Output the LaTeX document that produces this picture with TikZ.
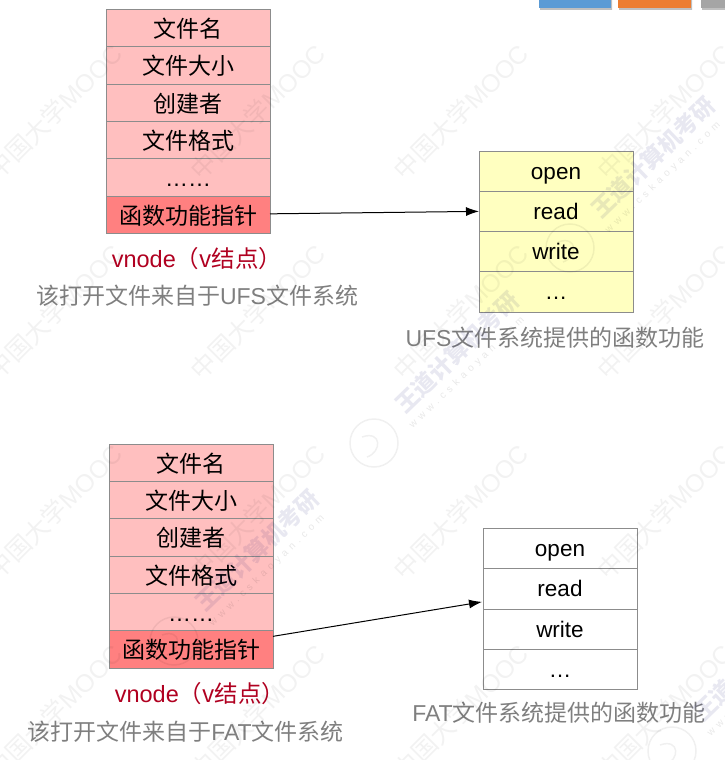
\documentclass[tikz,border=0pt]{standalone}
\usepackage{fontspec}
\setmainfont{Liberation Sans}
\newfontfamily\cjk{Noto Sans CJK SC}
\usetikzlibrary{arrows.meta,calc}
\definecolor{pinkA}{HTML}{FFBFBF}
\definecolor{pinkB}{HTML}{FF8080}
\definecolor{yellowA}{HTML}{FFFFC0}
\definecolor{edgeG}{HTML}{8C8C8C}
\definecolor{capG}{HTML}{7F7F7F}
\definecolor{capR}{HTML}{B00020}
\definecolor{barBlue}{RGB}{91,155,213}
\definecolor{barOrange}{RGB}{237,125,49}
\definecolor{barGray}{RGB}{165,165,165}
\tikzset{
  cell/.style={draw=edgeG,line width=1pt,inner sep=0pt,outer sep=0pt,anchor=north west,font=\fontsize{23}{24}\selectfont\cjk,text height=19pt,text depth=0pt},
  lcell/.style={cell,fill=pinkA,minimum width=164pt,minimum height=37.33pt},
  pcell/.style={lcell,fill=pinkB},
  ycell/.style={cell,fill=yellowA,minimum width=154pt,minimum height=40.25pt,font=\fontsize{22.5}{24}\selectfont,text height=16pt},
  wcell/.style={ycell,fill=white},
  link/.style={draw=black,line width=1pt,-{Latex[length=13pt,width=9pt]}},
  vcap/.style={text=capR,font=\fontsize{23.5}{24}\selectfont,inner sep=0pt},
  gcap/.style={text=capG,font=\fontsize{23}{24}\selectfont,inner sep=0pt},
  wmA/.style={rotate=45,text=black,opacity=0.05,font=\fontsize{25}{27}\selectfont,inner sep=0pt},
  wmB/.style={rotate=44,text=black!60!blue,opacity=0.09,font=\fontsize{23}{25}\selectfont\cjk\bfseries,inner sep=0pt},
  wmC/.style={rotate=44,text=black,opacity=0.09,font=\fontsize{10}{12}\selectfont\addfontfeature{LetterSpace=45},inner sep=0pt},
  wmD/.style={draw=black,opacity=0.06,line width=1.5pt},
  tabbar/.style={draw=none,inner sep=0pt,outer sep=0pt,anchor=north west,minimum height=8pt}
}
\newcommand{\Cj}[1]{{\cjk #1}}
\newcommand{\Dots}[1]{{\fontspec{Liberation Sans}#1}}
\begin{document}
\begin{tikzpicture}[x=1pt,y=-1pt]
\useasboundingbox (0,0) rectangle (725,760);
% top bars
\fill[black!25] (540,0) rectangle (612,10) (619,0) rectangle (692,10) (702,0) rectangle (725,10);
\node[tabbar,fill=barBlue,minimum width=72pt] (barA) at (539,0) {};
\node[tabbar,fill=barOrange,minimum width=73pt] (barB) at (618,0) {};
\node[tabbar,fill=barGray,minimum width=24pt] (barC) at (701,0) {};
% UFS left table
\node[lcell] (a1) at (106,9.5) {文件名};
\node[lcell] (a2) at (106,46.83) {文件大小};
\node[lcell] (a3) at (106,84.17) {创建者};
\node[lcell] (a4) at (106,121.5) {文件格式};
\node[lcell] (a5) at (106,158.83) {\Dots{……}};
\node[pcell] (a6) at (106,196.17) {函数功能指针};
\node[vcap] (a7) at (197,259) {vnode\Cj{（v结点）}};
\node[gcap] (a8) at (197,296) {\Cj{该打开文件来自于}UFS\Cj{文件系统}};
% UFS right table
\node[ycell] (b1) at (479,151) {open};
\node[ycell] (b2) at (479,191.25) {read};
\node[ycell] (b3) at (479,231.5) {write};
\node[ycell] (b4) at (479,271.75) {…};
\node[gcap] (b5) at (555,338) {UFS\Cj{文件系统提供的函数功能}};
% FAT left table
\node[lcell] (c1) at (109,444) {文件名};
\node[lcell] (c2) at (109,481.33) {文件大小};
\node[lcell] (c3) at (109,518.67) {创建者};
\node[lcell] (c4) at (109,556) {文件格式};
\node[lcell] (c5) at (109,593.33) {\Dots{……}};
\node[pcell] (c6) at (109,630.67) {函数功能指针};
\node[vcap] (c7) at (200,694) {vnode\Cj{（v结点）}};
\node[gcap] (c8) at (185.5,732) {\Cj{该打开文件来自于}FAT\Cj{文件系统}};
% FAT right table
\node[wcell] (d1) at (483,528.5) {open};
\node[wcell] (d2) at (483,568.75) {read};
\node[wcell] (d3) at (483,609) {write};
\node[wcell] (d4) at (483,649.25) {…};
\node[gcap] (d5) at (559,713) {FAT\Cj{文件系统提供的函数功能}};
% connectors
\coordinate (aOut) at ($(a6.east)+(0,-1)$);
\draw[link] (aOut) -- (b2.west);
\coordinate (cOut) at ($(c6.east)+(0,-13)$);
\coordinate (dIn) at ($(d2.west)+(-1,13)$);
\draw[link] (cOut) -- (dIn);
% watermarks
\foreach \cx/\cy [count=\i] in {55/112,258/112,461/112,665/112,55/312,258/312,461/312,665/312,55/512,258/512,461/512,665/512,55/712,258/712,461/712,665/712}{
  \node[wmA] (wm\i) at (\cx,\cy) {\Cj{中国大学}MOOC};
}
\foreach \cx/\cy [count=\i] in {653/157,457/352,257/550,755/660}{
  \node[wmB] (wn\i) at (\cx,\cy) {王道计算机考研};
  \node[wmC] (wu\i) at ($(\cx,\cy)+(10,21)$) {www.cskaoyan.com};
  \draw[wmD] ($(\cx,\cy)+(-83,91)$) circle (24pt);
  \draw[wmD] ($(\cx,\cy)+(-95,85)$) .. controls ($(\cx,\cy)+(-75,78)$) and ($(\cx,\cy)+(-75,100)$) .. ($(\cx,\cy)+(-90,105)$);
}
\end{tikzpicture}
\end{document}
